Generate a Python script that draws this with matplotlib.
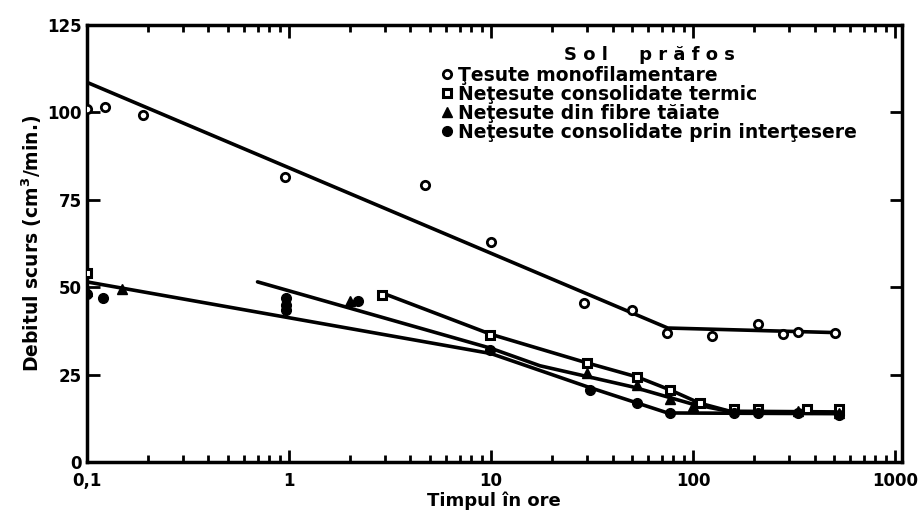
import numpy as np
import matplotlib.pyplot as plt
from matplotlib.ticker import FixedLocator, LogLocator, NullFormatter

plt.rcParams['font.family'] = ['DejaVu Sans']
plt.rcParams['font.weight'] = 'bold'

mono_x = [0.1, 0.123, 0.19, 0.955, 4.7, 10, 29, 50, 74, 124, 210, 279, 331, 505]
mono_y = [101, 101.4, 99.3, 81.4, 79.1, 63, 45.4, 43.4, 36.9, 36, 39.4, 36.6, 37.1, 36.9]

termic_x = [0.1, 2.9, 9.9, 29.8, 53, 77, 108, 160, 210, 365, 530]
termic_y = [54, 47.7, 36.3, 28.3, 24.3, 20.6, 16.8, 15, 15.2, 15.2, 15]

taiate_x = [0.1, 0.15, 2.0, 30, 53, 77, 100, 331, 530]
taiate_y = [49, 49.5, 46, 25.5, 22, 18, 16, 14.5, 14]

inter_x = [0.1, 0.12, 0.97, 0.97, 0.97, 2.2, 9.9, 31, 53, 77, 160, 210, 331, 530]
inter_y = [48, 47, 47, 45, 43.5, 46, 32, 20.6, 16.9, 14, 14, 14, 14, 13.5]

# hand-drawn trend lines
fit_mono_x = [0.1, 75, 500]
fit_mono_y = [108.6, 38.3, 37]
fit_a_x = [0.1, 10, 30, 75, 530]
fit_a_y = [51.5, 31, 21.5, 14, 13.8]
fit_b_x = [0.7, 10, 17.5, 50, 100, 150, 530]
fit_b_y = [51.5, 32.5, 27.5, 21.5, 16.5, 14.5, 14.3]
fit_c_x = [3, 10, 30, 53, 77, 108, 150]
fit_c_y = [48, 36.5, 28.3, 24.3, 20.6, 16.8, 14.6]

legend_labels = ['Ţesute monofilamentare', 'Neţesute consolidate termic',
                 'Neţesute din fibre tăiate', 'Neţesute consolidate prin interţesere']

fig = plt.figure(figsize=(9.23, 5.19), dpi=100)
ax = fig.add_axes([0.094, 0.110, 0.883, 0.842])

for fx, fy in [(fit_mono_x, fit_mono_y), (fit_a_x, fit_a_y), (fit_b_x, fit_b_y), (fit_c_x, fit_c_y)]:
    ax.plot(fx, fy, color='black', lw=2.6, solid_capstyle='round', zorder=2)

h1, = ax.plot(mono_x, mono_y, 'o', ms=6, mfc='white', mec='black', mew=2, zorder=3)
h2, = ax.plot(termic_x, termic_y, 's', ms=6, mfc='white', mec='black', mew=2.2, zorder=3)
h3, = ax.plot(taiate_x, taiate_y, '^', ms=7, color='black', zorder=3)
h4, = ax.plot(inter_x, inter_y, 'o', ms=7, color='black', zorder=3)

ax.set_xscale('log')
ax.set_xlim(0.1, 1080)
ax.set_ylim(0, 125)

ax.xaxis.set_major_locator(FixedLocator([0.1, 1, 10, 100, 1000]))
ax.set_xticklabels(['0,1', '1', '10', '100', '1000'])
ax.xaxis.set_minor_locator(LogLocator(base=10, subs=np.arange(2, 10)))
ax.xaxis.set_minor_formatter(NullFormatter())
ax.set_yticks([0, 25, 50, 75, 100, 125])

ax.tick_params(which='both', direction='in', top=True, right=True, width=2, labelsize=12)
ax.tick_params(which='major', length=9)
ax.tick_params(which='minor', length=5)
ax.tick_params(axis='x', pad=7)
for s in ax.spines.values():
    s.set_linewidth(2.5)

ax.set_xlabel('Timpul în ore', fontsize=13, fontweight='bold', labelpad=1)
ax.set_ylabel('Debitul scurs (cm$^\\mathbf{3}$/min.)', fontsize=13.5, fontweight='bold', labelpad=2)

leg = ax.legend([h1, h2, h3, h4], legend_labels, loc='upper left', bbox_to_anchor=(0.415, 0.99),
                frameon=False, handlelength=0.6, handletextpad=0.25, labelspacing=0.0,
                prop={'size': 13.5, 'weight': 'bold'},
                title='S o l     p r ă f o s', title_fontproperties={'size': 13, 'weight': 'bold'})
leg._legend_box.align = 'center'
leg._legend_box.sep = 1

fig.savefig('out.png', dpi=100)
